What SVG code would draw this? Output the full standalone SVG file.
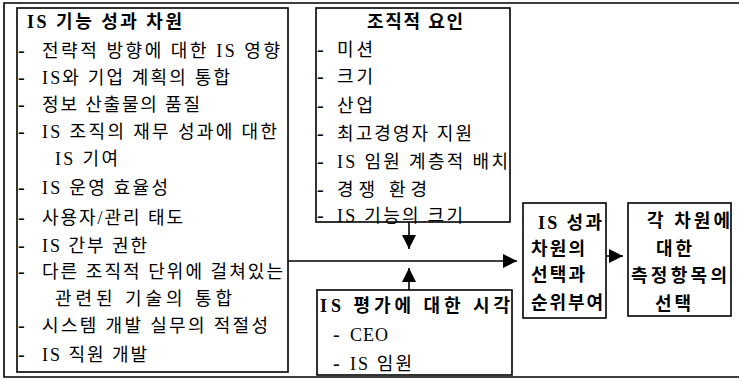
<svg xmlns="http://www.w3.org/2000/svg" width="739" height="379" viewBox="0 0 739 379">
<style>
text{font-family:"Liberation Serif","Noto Sans CJK KR",serif;font-size:18px;fill:#000}
.b{font-weight:bold}
.d{font-size:20px}
.box{fill:#fff;stroke:#000;stroke-width:1.6}
.ln{stroke:#000;stroke-width:1.6;fill:none}
</style>
<defs>
<marker id="ah" markerWidth="14" markerHeight="14" refX="14" refY="7" orient="auto" markerUnits="userSpaceOnUse">
<path d="M0,0 L14,7 L0,14 Z" fill="#000"/>
</marker>
</defs>
<path id="frame" class="ln" d="M739,3 H4 V377 H739"/>
<g id="node-is-function">
<rect class="box" x="17" y="8" width="271" height="364"/>
<text class="b" x="27" y="28" textLength="155" lengthAdjust="spacing">IS 기능 성과 차원</text>
<text class="d" x="18" y="57">-</text><text x="42" y="57" textLength="238" lengthAdjust="spacing">전략적 방향에 대한 IS 영향</text>
<text class="d" x="18" y="84">-</text><text x="42" y="84" textLength="188" lengthAdjust="spacing">IS와 기업 계획의 통합</text>
<text class="d" x="18" y="111">-</text><text x="42" y="111" textLength="158" lengthAdjust="spacing">정보 산출물의 품질</text>
<text class="d" x="18" y="138">-</text><text x="42" y="138" textLength="235" lengthAdjust="spacing">IS 조직의 재무 성과에 대한</text>
<text x="55" y="165" textLength="63" lengthAdjust="spacing">IS 기여</text>
<text class="d" x="18" y="194">-</text><text x="42" y="194" textLength="126" lengthAdjust="spacing">IS 운영 효율성</text>
<text class="d" x="18" y="224">-</text><text x="42" y="224" textLength="141" lengthAdjust="spacing">사용자/관리 태도</text>
<text class="d" x="18" y="252">-</text><text x="42" y="252" textLength="105" lengthAdjust="spacing">IS 간부 권한</text>
<text class="d" x="18" y="278">-</text><text x="42" y="278" textLength="241" lengthAdjust="spacing">다른 조직적 단위에 걸쳐있는</text>
<text x="55" y="305" textLength="177" lengthAdjust="spacing">관련된 기술의 통합</text>
<text class="d" x="18" y="332">-</text><text x="42" y="332" textLength="226" lengthAdjust="spacing">시스템 개발 실무의 적절성</text>
<text class="d" x="18" y="361">-</text><text x="42" y="361" textLength="105" lengthAdjust="spacing">IS 직원 개발</text>
</g>
<g id="node-org-factors">
<rect class="box" x="316" y="8" width="194" height="214"/>
<text class="b" x="367" y="28" textLength="96" lengthAdjust="spacing">조직적 요인</text>
<text class="d" x="317" y="56">-</text><text x="337" y="56" textLength="36" lengthAdjust="spacing">미션</text>
<text class="d" x="317" y="83">-</text><text x="337" y="83" textLength="36" lengthAdjust="spacing">크기</text>
<text class="d" x="317" y="112">-</text><text x="337" y="112" textLength="36" lengthAdjust="spacing">산업</text>
<text class="d" x="317" y="140">-</text><text x="337" y="140" textLength="135" lengthAdjust="spacing">최고경영자 지원</text>
<text class="d" x="317" y="168">-</text><text x="337" y="168" textLength="171" lengthAdjust="spacing">IS 임원 계층적 배치</text>
<text class="d" x="317" y="196">-</text><text x="337" y="196" textLength="90" lengthAdjust="spacing">경쟁 환경</text>
<text class="d" x="317" y="222">-</text><text x="337" y="222" textLength="126" lengthAdjust="spacing">IS 기능의 크기</text>
</g>
<g id="node-perspective">
<rect class="box" x="317" y="290" width="195" height="85"/>
<text class="b" x="320" y="312" textLength="190" lengthAdjust="spacing">IS 평가에 대한 시각</text>
<text class="d" x="333" y="341">-</text><text x="350" y="341" textLength="38" lengthAdjust="spacing">CEO</text>
<text class="d" x="333" y="370">-</text><text x="350" y="370" textLength="62" lengthAdjust="spacing">IS 임원</text>
</g>
<g id="node-select-dimensions">
<rect class="box" x="523" y="203" width="83" height="115"/>
<text class="b" x="538" y="229" textLength="64" lengthAdjust="spacing">IS 성과</text>
<text class="b" x="531" y="255" textLength="54" lengthAdjust="spacing">차원의</text>
<text class="b" x="531" y="281" textLength="54" lengthAdjust="spacing">선택과</text>
<text class="b" x="531" y="309" textLength="72" lengthAdjust="spacing">순위부여</text>
</g>
<g id="node-select-measures">
<rect class="box" x="628" y="203" width="103" height="113"/>
<text class="b" x="647" y="227" textLength="83" lengthAdjust="spacing">각 차원에</text>
<text class="b" x="656" y="255" textLength="36" lengthAdjust="spacing">대한</text>
<text class="b" x="631" y="282" textLength="96" lengthAdjust="spacing">측정항목의</text>
<text class="b" x="655" y="310" textLength="36" lengthAdjust="spacing">선택</text>
</g>
<g id="connectors">
<path class="ln" d="M288,261 H517" marker-end="url(#ah)"/>
<path class="ln" d="M409,222 V249" marker-end="url(#ah)"/>
<path class="ln" d="M409,290 V268" marker-end="url(#ah)"/>
<path class="ln" d="M606,256 H623" marker-end="url(#ah)"/>
</g>
</svg>
